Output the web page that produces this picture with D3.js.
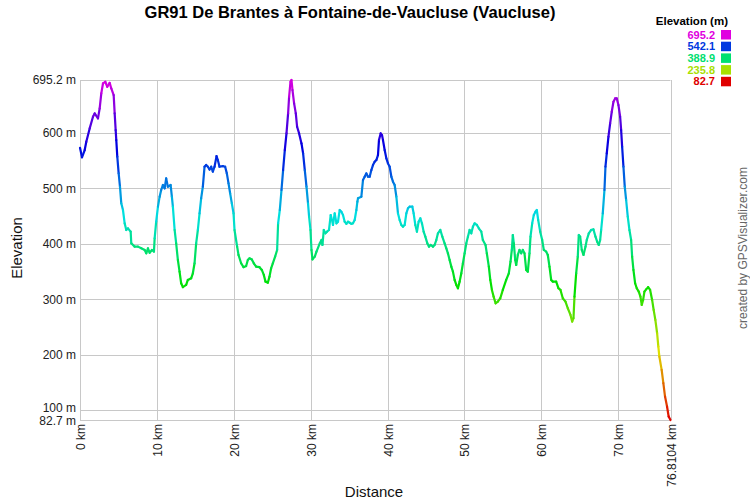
<!DOCTYPE html>
<html>
<head>
<meta charset="utf-8">
<script src="https://cdn.jsdelivr.net/npm/d3@7"></script>
<style>
  body { margin: 0; background: #fff; }
  svg { display: block; font-family: "Liberation Sans", Arial, sans-serif; }
</style>
</head>
<body>
<svg id="chart" width="750" height="500"></svg>
<script>
const titleText = "GR91 De Brantes à Fontaine-de-Vaucluse (Vaucluse)";
const distanceKm = [0.00,0.26,0.61,0.82,1.26,1.69,1.91,2.34,2.56,2.77,2.99,3.29,3.55,3.86,4.07,4.38,4.51,4.64,4.72,4.85,5.03,5.20,5.37,5.59,5.81,6.02,6.24,6.59,6.67,7.11,7.54,7.97,8.41,8.62,8.84,9.06,9.36,9.62,9.71,9.91,10.14,10.36,10.56,10.78,11.01,11.21,11.43,11.79,11.95,12.08,12.31,12.51,12.73,12.95,13.16,13.38,13.81,14.03,14.46,14.68,14.90,15.11,15.33,15.55,15.76,15.98,16.20,16.41,16.63,16.85,17.06,17.28,17.50,17.76,17.93,18.15,18.58,18.88,19.10,19.32,19.53,19.75,19.97,20.10,20.44,20.62,20.96,21.27,21.61,21.83,22.05,22.35,22.61,22.91,23.35,23.65,23.91,24.13,24.43,24.65,24.86,25.08,25.38,25.64,25.77,25.99,26.21,26.42,26.64,26.86,27.07,27.20,27.38,27.51,27.64,27.85,28.07,28.24,28.50,28.81,29.02,29.24,29.46,29.66,29.80,29.98,30.11,30.24,30.54,30.76,31.19,31.41,31.54,31.71,31.93,32.13,32.39,32.61,32.78,32.91,33.13,33.36,33.56,33.78,34.00,34.21,34.43,34.65,34.86,35.08,35.30,35.51,35.73,35.95,36.08,36.16,36.60,36.81,37.03,37.25,37.46,37.68,37.90,38.11,38.33,38.55,38.76,38.89,39.11,39.28,39.41,39.63,39.85,40.06,40.28,40.50,40.71,40.93,41.15,41.36,41.58,41.80,42.01,42.23,42.45,42.66,42.88,43.23,43.40,43.62,43.83,44.05,44.27,44.48,44.70,44.92,45.18,45.39,45.61,45.91,46.13,46.35,46.56,46.87,47.13,47.43,47.65,47.86,48.08,48.30,48.51,48.73,48.95,49.16,49.38,49.60,49.81,50.03,50.25,50.46,50.68,50.90,51.11,51.33,51.63,51.88,52.20,52.40,52.75,52.92,53.18,53.37,53.58,53.80,54.06,54.35,54.67,55.00,55.44,55.78,56.00,56.17,56.30,56.43,56.61,56.74,56.95,57.17,57.39,57.60,57.82,58.04,58.25,58.47,58.60,58.82,59.03,59.25,59.42,59.60,59.86,60.12,60.33,60.64,60.85,61.07,61.29,61.50,61.94,62.24,62.50,62.80,63.15,63.45,63.80,64.02,64.19,64.32,64.54,64.75,64.88,65.06,65.27,65.49,65.75,65.92,66.18,66.49,66.79,67.05,67.27,67.48,67.66,67.79,68.00,68.22,68.35,68.52,68.74,68.96,69.17,69.39,69.61,69.82,70.04,70.26,70.39,70.52,70.69,70.86,71.04,71.25,71.47,71.69,71.82,71.99,72.21,72.42,72.68,72.90,73.07,73.25,73.42,73.64,73.90,74.16,74.42,74.62,74.84,75.07,75.23,75.36,75.66,75.88,76.10,76.36,76.57,76.8104];
const elevationM = [573,556,569,584,608,629,635,626,644,671,689,692,683,690,680,668,635,605,587,557,527,503,473,461,437,425,428,422,401,395,395,392,389,383,392,384,389,386,410,440,467,485,497,506,500,518,503,506,485,467,425,401,371,350,329,322,326,335,338,347,365,401,425,455,482,503,539,542,539,534,539,530,539,558,551,539,540,539,527,509,491,473,455,425,395,380,365,358,360,371,374,372,365,359,358,353,344,332,330,341,356,365,377,389,437,461,497,533,569,599,635,665,692,695.2,677,653,635,611,599,581,563,533,503,473,449,425,389,372,377,386,401,407,398,425,419,422,425,452,443,434,455,437,440,461,458,452,440,436,440,438,436,437,443,461,476,482,485,515,521,527,521,521,533,542,548,551,560,587,599,596,587,569,554,545,539,521,512,506,485,455,443,434,431,434,455,464,467,467,455,434,422,440,446,437,422,413,401,395,398,395,398,407,419,425,413,401,392,383,371,359,350,335,326,320,332,347,365,383,401,413,425,419,431,437,434,428,422,407,398,383,359,335,317,305,293,296,302,317,335,347,368,389,416,401,371,362,380,389,383,389,383,353,350,383,413,437,452,458,461,443,422,407,389,386,380,359,335,332,332,320,317,302,296,284,272,260,266,305,347,377,416,413,389,380,395,407,419,425,426,413,404,398,407,425,455,497,539,563,593,617,638,656,662,662,650,629,605,575,539,503,479,449,425,407,377,353,329,320,314,305,290,299,314,318,322,317,299,281,263,239,215,197,173,149,125,107,89,82.7];
const yTickValues = [82.7,100,200,300,400,500,600,695.2];
const xTickValues = [0,10,20,30,40,50,60,70,76.8104];
const legendValues = [695.2,542.1,388.9,235.8,82.7];

(function () {
const svg = d3.select("#chart");
const pLeft = 80, pRight = 670.5, pTop = 80, pBottom = 420;
const eMin = 82.7, eMax = 695.2, dMax = 76.8104;

const x = d3.scaleLinear().domain([0, dMax]).range([pLeft, pRight]);
const y = d3.scaleLinear().domain([eMin, eMax]).range([pBottom, pTop]);
const hue = d3.scaleLinear().domain([eMin, eMax]).range([0, 300]);
const colorOf = e => d3.hsl(hue(e), 1, 0.44).formatHex();

// Title
svg.append("text").attr("x", 350).attr("y", 18).attr("text-anchor", "middle")
  .attr("font-size", 16.5).attr("font-weight", "bold").attr("fill", "#000").text(titleText);

// Grid
const grid = svg.append("g").attr("stroke", "#c8c8c8").attr("stroke-width", 1);
yTickValues.forEach(v => {
  const yy = Math.round(y(v)) + 0.5;
  grid.append("line").attr("x1", pLeft).attr("x2", pRight).attr("y1", yy).attr("y2", yy);
});
xTickValues.forEach(v => {
  const xx = Math.round(x(v)) + 0.5;
  grid.append("line").attr("x1", xx).attr("x2", xx).attr("y1", pTop).attr("y2", pBottom);
});

// Y axis labels
const yAxis = d3.axisLeft(y).tickValues(yTickValues).tickSize(0).tickPadding(4)
  .tickFormat(d => d + " m");
const gy = svg.append("g").attr("transform", `translate(${pLeft},0)`).call(yAxis);
gy.select(".domain").remove();
gy.selectAll("text").attr("font-size", 12).attr("fill", "#222")
  .attr("font-family", "'Liberation Sans', Arial, sans-serif");
gy.selectAll(".tick").filter(d => d === eMin).select("text").attr("dy", "0.4em");
gy.selectAll(".tick").filter(d => d === 100).select("text").attr("dy", "0.05em");

// X axis labels (rotated)
const gx = svg.append("g");
xTickValues.forEach(v => {
  gx.append("text")
    .attr("transform", `translate(${Math.round(x(v)) + 0.5},424) rotate(-90)`)
    .attr("text-anchor", "end").attr("dy", "0.35em")
    .attr("font-size", 12).attr("fill", "#222")
    .text(v + " km");
});

// Axis titles
svg.append("text").attr("transform", "translate(22,248) rotate(-90)")
  .attr("text-anchor", "middle").attr("font-size", 15).attr("fill", "#111").text("Elevation");
svg.append("text").attr("x", 374).attr("y", 497).attr("text-anchor", "middle")
  .attr("font-size", 15).attr("fill", "#111").text("Distance");

// Credit
svg.append("text").attr("transform", "translate(747,248) rotate(-90)")
  .attr("text-anchor", "middle").attr("font-size", 12).attr("fill", "#666")
  .text("created by GPSVisualizer.com");

// Legend
svg.append("text").attr("x", 728).attr("y", 25).attr("text-anchor", "end")
  .attr("font-size", 11.5).attr("font-weight", "bold").attr("fill", "#000").text("Elevation (m)");
legendValues.forEach((v, i) => {
  const yy = 30 + i * 11.7;
  svg.append("rect").attr("x", 721).attr("y", yy).attr("width", 10).attr("height", 9.5)
    .attr("fill", colorOf(v));
  svg.append("text").attr("x", 715).attr("y", yy + 8.5).attr("text-anchor", "end")
    .attr("font-size", 11).attr("font-weight", "bold").attr("fill", colorOf(v))
    .text(v.toFixed(1));
});

// Profile line, colored by elevation
const n = Math.min(distanceKm.length, elevationM.length);
const pts = d3.range(n).map(i => ({d: distanceKm[i], e: elevationM[i]}));
const segs = d3.pairs(pts);
svg.append("g").selectAll("line").data(segs).join("line")
  .attr("x1", s => x(s[0].d)).attr("y1", s => y(s[0].e))
  .attr("x2", s => x(s[1].d)).attr("y2", s => y(s[1].e))
  .attr("stroke", s => colorOf((s[0].e + s[1].e) / 2))
  .attr("stroke-width", 2.2).attr("stroke-linecap", "round");
})();
</script>
</body>
</html>
